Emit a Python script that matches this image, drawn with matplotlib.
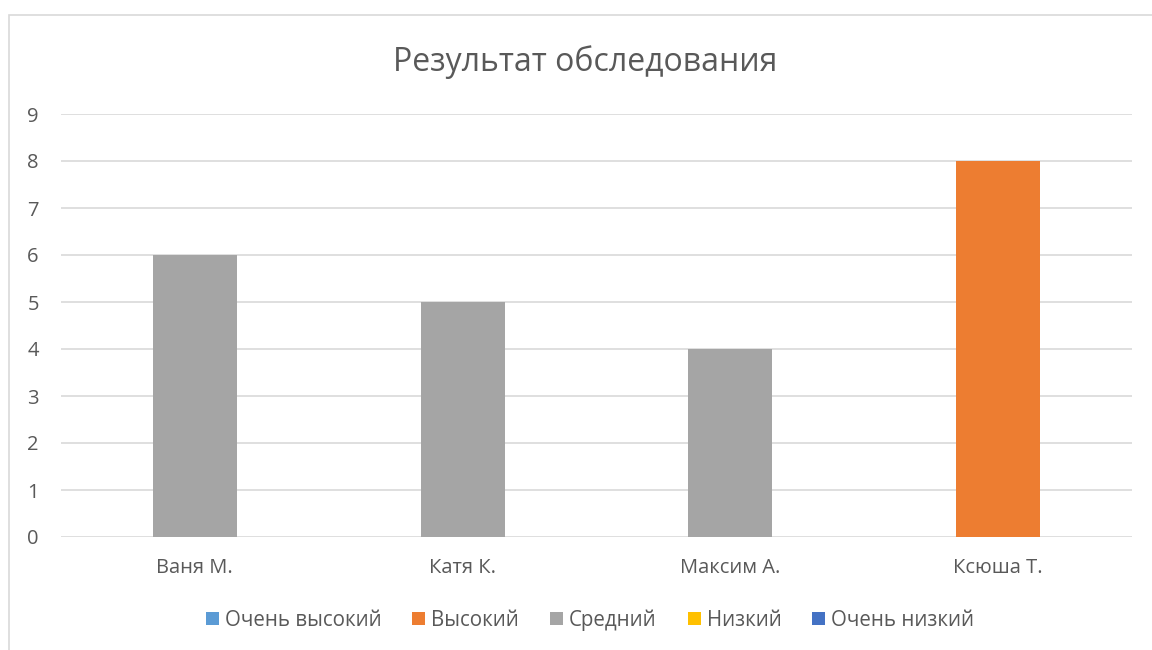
import matplotlib

matplotlib.use("Agg")

import matplotlib.pyplot as plt
from matplotlib.patches import Rectangle


plt.rcParams["font.family"] = ["Open Sans", "DejaVu Sans"]

TITLE = "Результат обследования"
students = ["Ваня М.", "Катя К.", "Максим А.", "Ксюша Т."]
levels = ["Очень высокий", "Высокий", "Средний", "Низкий", "Очень низкий"]

# one series per level, a student sits in only one of them
ochen_vysokiy = [0, 0, 0, 0]
vysokiy = [0, 0, 0, 8]
sredniy = [6, 5, 4, 0]
nizkiy = [0, 0, 0, 0]
ochen_nizkiy = [0, 0, 0, 0]

yticks = list(range(0, 10))

COLORS = ["#5B9BD5", "#ED7D31", "#A5A5A5", "#FFC000", "#4472C4"]
TEXT = "#595959"
GRID = "#D9D9D9"

W, H = 1152, 650


def main():
    fig = plt.figure(figsize=(W / 100, H / 100), dpi=100)
    fig.patch.set_facecolor("white")

    # chart frame, cut at right and bottom like the screenshot
    fig.patches.append(
        Rectangle(
            (9 / W, -0.1),
            1.2,
            (H - 15) / H + 0.1,
            transform=fig.transFigure,
            fill=False,
            edgecolor=GRID,
            linewidth=1.2,
            zorder=0,
        )
    )

    ax = fig.add_axes([61 / W, 1 - 537 / H, (1132 - 61) / W, (537 - 114) / H])

    series = [ochen_vysokiy, vysokiy, sredniy, nizkiy, ochen_nizkiy]
    x = list(range(len(students)))
    bottom = [0] * len(students)
    handles = []
    for name, vals, color in zip(levels, series, COLORS):
        b = ax.bar(x, vals, width=0.314, bottom=bottom, color=color,
                   label=name, zorder=3, linewidth=0)
        handles.append(b)
        bottom = [p + v for p, v in zip(bottom, vals)]

    ax.set_xlim(-0.5, len(students) - 0.5)
    ax.set_ylim(0, 9)
    ax.set_yticks(yticks)
    ax.set_xticks(x)
    ax.set_xticklabels(students)
    ax.tick_params(axis="both", length=0, labelsize=14.5, colors=TEXT)
    ax.tick_params(axis="y", pad=16)
    ax.tick_params(axis="x", pad=15)
    for lab in ax.get_yticklabels():
        lab.set_horizontalalignment("right")

    ax.grid(axis="y", color=GRID, linewidth=1.2, zorder=0)
    ax.set_axisbelow(True)
    for spine in ax.spines.values():
        spine.set_visible(False)

    fig.text(585 / W, 1 - 62 / H, TITLE, ha="center", va="center",
             fontsize=23, color=TEXT)

    fig.legend(
        handles=handles,
        labels=levels,
        loc="center",
        bbox_to_anchor=(590 / W, 1 - 620 / H),
        ncol=5,
        frameon=False,
        fontsize=14.8,
        handlelength=0.64,
        handleheight=0.64,
        handletextpad=0.29,
        columnspacing=1.5,
        labelcolor=TEXT,
    )

    fig.savefig("out.png", dpi=100)
    plt.close(fig)


if __name__ == "__main__":
    main()
